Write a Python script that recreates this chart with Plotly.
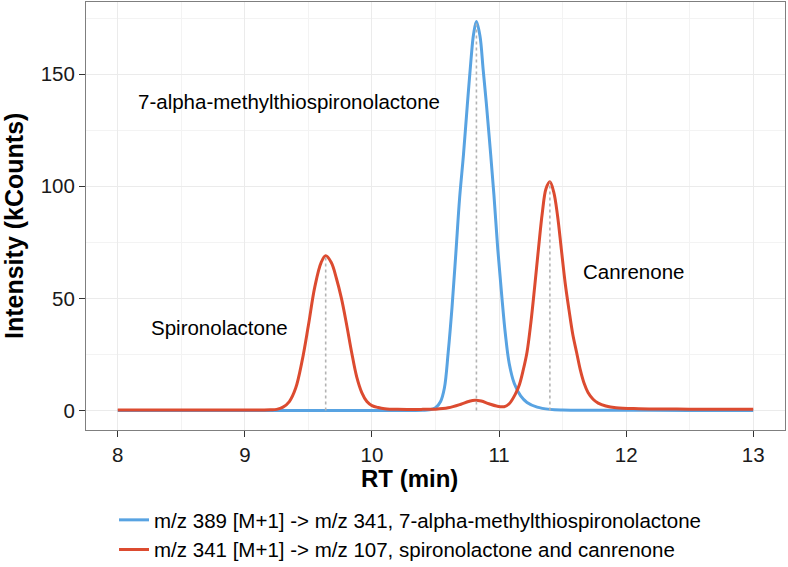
import plotly.graph_objects as go

# ---- data ----
rt_blue = [8.00, 9.00, 10.00, 10.30, 10.40, 10.45, 10.50, 10.54, 10.57, 10.60, 10.63, 10.66,
           10.69, 10.72, 10.75, 10.78, 10.80, 10.822, 10.85, 10.875, 10.90, 10.93, 10.96,
           10.99, 11.02, 11.05, 11.08, 11.12, 11.17, 11.22, 11.30, 11.40, 11.50, 12.00,
           12.50, 13.00]
int_blue = [0.0, 0.0, 0.0, 0.0, 0.1, 0.3, 1.2, 4.0, 10.0, 26.0, 46.0, 70.0,
            95.0, 114.0, 136.0, 157.0, 168.0, 173.5, 167.0, 152.0, 137.0, 117.0, 96.0,
            72.0, 52.0, 34.0, 21.0, 12.0, 6.5, 3.6, 1.5, 0.5, 0.2, 0.1,
            0.0, 0.0]

rt_red = [8.00, 8.50, 9.00, 9.20, 9.25, 9.30, 9.35, 9.40, 9.45, 9.50, 9.55, 9.60, 9.636,
          9.68, 9.72, 9.76, 9.80, 9.84, 9.88, 9.92, 9.96, 10.00, 10.05, 10.10, 10.20, 10.40,
          10.50, 10.60, 10.70, 10.76, 10.81, 10.86, 10.92, 10.98, 11.04, 11.08, 11.13,
          11.16, 11.19, 11.22, 11.25, 11.28, 11.31, 11.34, 11.37, 11.40, 11.43, 11.46,
          11.49, 11.52, 11.55, 11.58, 11.61, 11.64, 11.67, 11.70, 11.74, 11.78, 11.84,
          11.92, 12.10, 12.50, 13.00]
int_red = [0.2, 0.2, 0.2, 0.3, 0.5, 1.5, 4.0, 10.0, 22.0, 38.0, 55.0, 66.0, 69.0,
           66.0, 59.0, 50.0, 38.5, 26.0, 15.0, 8.0, 4.0, 2.2, 1.3, 0.8, 0.5, 0.5,
           0.6, 1.2, 2.8, 4.0, 4.6, 4.2, 3.0, 2.0, 1.7, 3.0, 7.5,
           11.5, 18.0, 26.0, 39.0, 55.0, 72.0, 88.0, 99.0, 102.0, 97.5, 87.0,
           72.0, 57.0, 45.0, 34.0, 26.0, 18.0, 12.0, 8.0, 5.0, 3.3, 2.0,
           1.2, 0.8, 0.6, 0.5]

peak_rt = [9.636, 10.822, 11.40]
peak_height = [69.0, 173.5, 102.0]

label_text = ["7-alpha-methylthiospironolactone", "Spironolactone", "Canrenone"]
label_rt = [9.35, 8.80, 12.06]
label_int = [137.7, 36.8, 62.0]

name_blue = "m/z 389 [M+1] -> m/z 341, 7-alpha-methylthiospironolactone"
name_red = "m/z 341 [M+1] -> m/z 107, spironolactone and canrenone"

x_ticks = [8, 9, 10, 11, 12, 13]
y_ticks = [0, 50, 100, 150]

BLUE = "#58A3E2"
RED = "#DC4B30"
FONT = "Liberation Sans, Arial, Helvetica, sans-serif"

fig = go.Figure()
fig.add_trace(go.Scatter(x=rt_blue, y=int_blue, mode="lines", name=name_blue,
                         line=dict(color=BLUE, width=3, shape="spline", smoothing=1.0)))
fig.add_trace(go.Scatter(x=rt_red, y=int_red, mode="lines", name=name_red,
                         line=dict(color=RED, width=3, shape="spline", smoothing=1.0)))
for prt, ph in zip(peak_rt, peak_height):
    fig.add_trace(go.Scatter(x=[prt, prt], y=[0, ph], mode="lines", showlegend=False,
                             hoverinfo="skip",
                             line=dict(color="#b3b3b3", width=1.6, dash="dot")))

for t, xr, yi in zip(label_text, label_rt, label_int):
    fig.add_annotation(x=xr, y=yi, text=t, showarrow=False,
                       font=dict(family=FONT, size=20.5, color="#000000"),
                       xanchor="center", yanchor="middle")

# axis titles as annotations for exact placement
fig.add_annotation(xref="paper", yref="paper", x=(14 - 86) / 699, y=0.4766,
                   text="<b>Intensity (kCounts)</b>", textangle=-90, showarrow=False,
                   font=dict(family=FONT, size=25, color="#000000"),
                   xanchor="center", yanchor="middle")
fig.add_annotation(xref="paper", yref="paper", x=(409.7 - 86) / 699, y=(430 - 478) / 428,
                   text="<b>RT (min)</b>", showarrow=False,
                   font=dict(family=FONT, size=24, color="#000000"),
                   xanchor="center", yanchor="middle")

axis_common = dict(
    showline=True, linecolor="#7f7f7f", linewidth=1, mirror=True,
    ticks="outside", ticklen=6, tickcolor="#333333", tickwidth=1,
    showgrid=True, gridcolor="#ebebeb", gridwidth=1, zeroline=False,
    tickfont=dict(family=FONT, size=20.5, color="#1a1a1a"),
    automargin=False,
)

fig.update_layout(
    width=788, height=567,
    margin=dict(l=86, r=3, t=2, b=137, autoexpand=False),
    paper_bgcolor="white", plot_bgcolor="white",
    font=dict(family=FONT, size=20, color="#000000"),
    xaxis=dict(range=[7.75, 13.25], tickvals=x_ticks, ticktext=[str(v) for v in x_ticks],
               minor=dict(dtick=0.5, tick0=7.5, showgrid=True, gridcolor="#f3f3f3", gridwidth=0.6),
               **axis_common),
    yaxis=dict(range=[-8.7, 182.2], tickvals=y_ticks, ticktext=[str(v) for v in y_ticks],
               minor=dict(dtick=25, tick0=0, showgrid=True, gridcolor="#f3f3f3", gridwidth=0.6),
               **axis_common),
    legend=dict(orientation="v", x=0.0401, xanchor="left", y=-0.1636, yanchor="top",
                font=dict(family=FONT, size=20.5, color="#000000"),
                bgcolor="rgba(0,0,0,0)", tracegroupgap=0),
    showlegend=True,
)

fig.write_html("out.html", config={"displayModeBar": False},
               post_script="document.body.style.margin='0';document.body.style.overflow='hidden';")
